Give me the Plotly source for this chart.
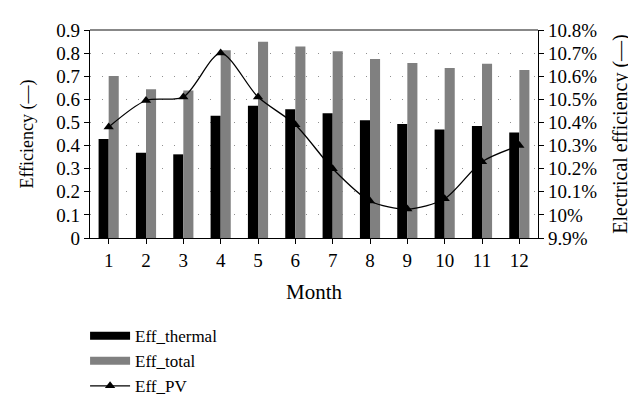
import plotly.graph_objects as go

months = [1, 2, 3, 4, 5, 6, 7, 8, 9, 10, 11, 12]
eff_thermal = [0.428, 0.369, 0.362, 0.529, 0.572, 0.557, 0.540, 0.509, 0.493, 0.470, 0.485, 0.456]
eff_total = [0.701, 0.644, 0.638, 0.812, 0.849, 0.829, 0.808, 0.774, 0.757, 0.736, 0.754, 0.727]
eff_pv = [10.38, 10.495, 10.51, 10.70, 10.51, 10.39, 10.20, 10.06, 10.025, 10.07, 10.23, 10.30]

FONT = "Liberation Serif"
fig = go.Figure()

fig.add_trace(go.Bar(x=months, y=eff_thermal, name="Eff_thermal", marker_color="#000000",
                     marker_line_width=0, showlegend=False, legendgroup="th"))
fig.add_trace(go.Bar(x=months, y=eff_total, name="Eff_total", marker_color="#808080",
                     marker_line_width=0, showlegend=False, legendgroup="to"))
fig.add_trace(go.Scatter(x=months, y=eff_pv, name="Eff_PV", yaxis="y2", mode="lines+markers",
                         line=dict(color="black", width=1.3, shape="spline", smoothing=0.8),
                         marker=dict(symbol="triangle-up", size=9, color="black"), showlegend=False))

# legend entries
fig.add_trace(go.Scatter(x=[None], y=[None], mode="lines", name="Eff_thermal", legendgroup="th",
                         line=dict(color="#000000", width=8)))
fig.add_trace(go.Scatter(x=[None], y=[None], mode="lines", name="Eff_total", legendgroup="to",
                         line=dict(color="#808080", width=8)))
fig.add_trace(go.Scatter(x=[None], y=[None], yaxis="y2", mode="lines+markers", name="Eff_PV",
                         line=dict(color="black", width=1.3),
                         marker=dict(symbol="triangle-up", size=9, color="black")))

fig.update_layout(
    width=636, height=408,
    margin=dict(l=82, r=106, t=15, b=169),
    paper_bgcolor="white", plot_bgcolor="white",
    font=dict(family=FONT, size=19, color="black"),
    barmode="group", bargap=0.46, bargroupgap=0,
    xaxis=dict(tickmode="array", tickvals=months, ticktext=[str(m) for m in months],
               range=[0.5, 12.5], showline=True, linecolor="black", linewidth=1.2,
               ticks="outside", tickson="boundaries", ticklen=5, tickcolor="black",
               showgrid=False, tickfont=dict(size=19), tickangle=0,
               title=dict(text="Month", standoff=14, font=dict(size=21))),
    yaxis=dict(range=[0, 0.9], dtick=0.1, showline=True, linecolor="black", linewidth=1.2,
               ticks="outside", ticklen=5, tickcolor="black",
               showgrid=True, gridcolor="#909090", griddash="1px,11px", gridwidth=1,
               zeroline=False, tickfont=dict(size=19),
               title=dict(text="Efficiency (—)", standoff=18, font=dict(size=18))),
    yaxis2=dict(range=[9.9, 10.8], dtick=0.1, overlaying="y", side="right", ticksuffix="%",
                showline=True, linecolor="black", linewidth=1.2,
                ticks="outside", ticklen=5, tickcolor="black", showgrid=False, zeroline=False,
                tickfont=dict(size=19),
                title=dict(text="Electrical efficiency (—)", standoff=16, font=dict(size=20))),
    legend=dict(x=-0.011, y=-0.385, xanchor="left", yanchor="top", orientation="v",
                bgcolor="rgba(0,0,0,0)", itemwidth=40, tracegroupgap=0,
                font=dict(family=FONT, size=17)),
    shapes=[dict(type="line", xref="paper", yref="paper", x0=0, x1=1, y0=1, y1=1,
                 line=dict(color="#606060", width=1.5))],
)

fig.write_html("out.html")
